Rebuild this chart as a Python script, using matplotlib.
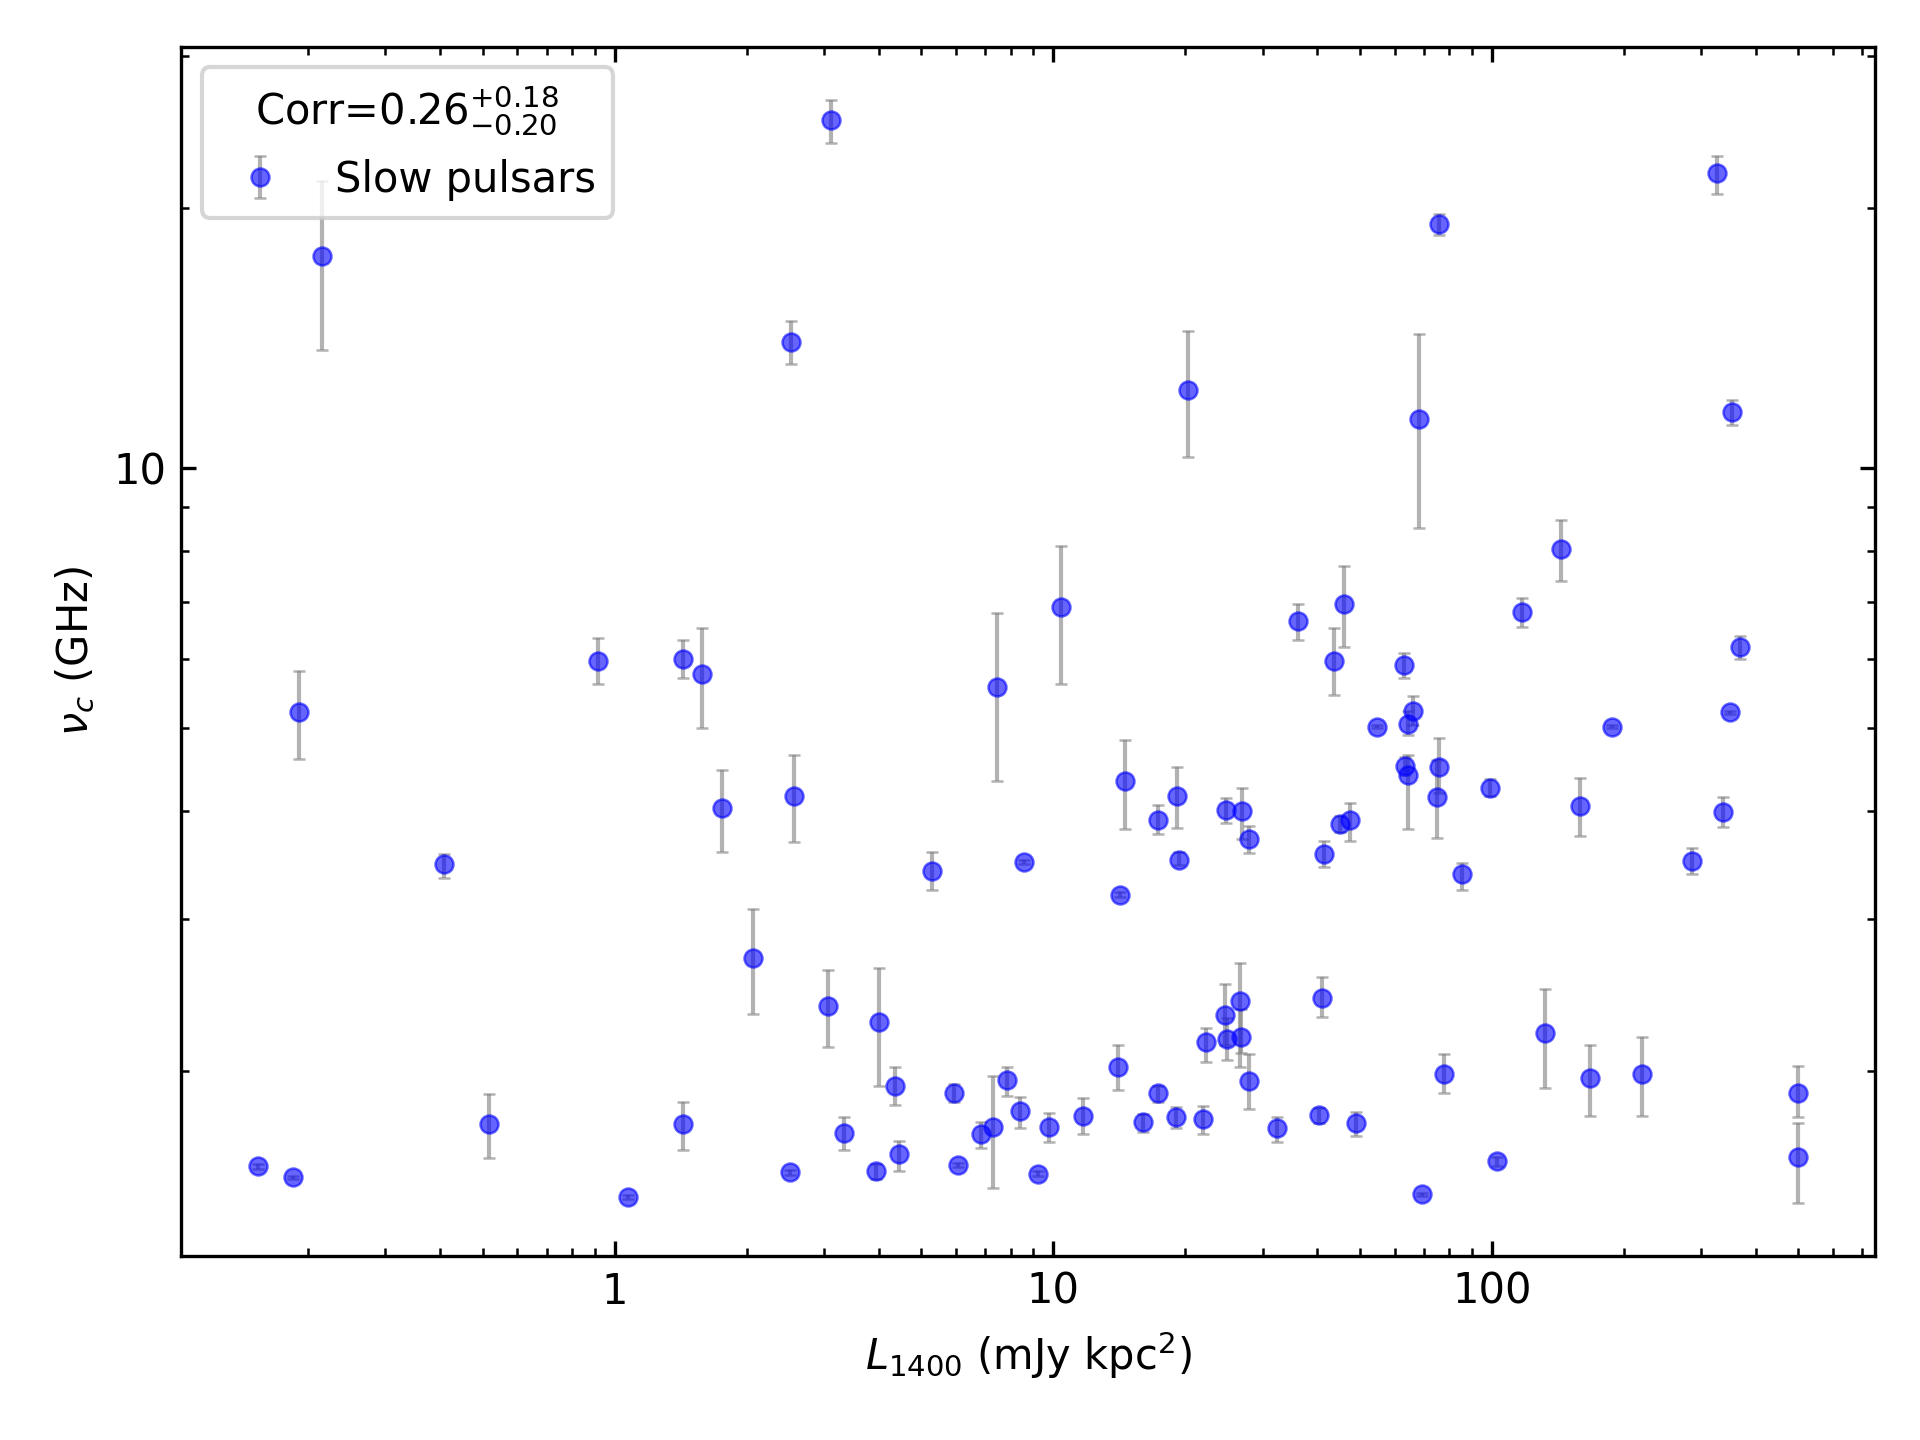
import numpy as np
from matplotlib import pyplot as plt
from matplotlib import ticker

# Luminosity at 1400 MHz (mJy kpc^2)
lum = [0.154, 0.185, 0.215, 0.191, 0.407, 0.516, 0.914, 1.073, 1.43, 1.43,
       1.58, 1.76, 2.07, 2.52, 2.57, 2.51, 3.12, 3.06, 3.33, 3.94,
       4.01, 4.36, 4.44, 5.29, 5.94, 6.05, 6.84, 7.44, 7.29, 7.83,
       8.40, 8.57, 9.25, 9.80, 10.4, 11.7, 14.05, 14.2, 14.6, 16.0,
       17.3, 17.3, 19.1, 19.3, 19.0, 20.3, 21.9, 22.3, 24.6, 24.9,
       26.6, 26.8, 26.9, 27.97, 28.0, 32.4, 36.2, 40.3, 40.9, 41.4,
       43.6, 45.0, 45.9, 47.4, 48.9, 54.6, 62.9, 63.4, 64.3, 64.5,
       66.2, 68.4, 69.2, 74.8, 75.6, 75.7, 77.7, 85.6, 99.2, 102.5,
       117.3, 132.5, 144.1, 158.7, 167.1, 187.5, 220.3, 286.7, 326.0, 336.6,
       350.0, 352.0, 368.0, 498.5, 498.5, 24.8]

# Cutoff frequency (GHz)
nu_c = [1.55, 1.505, 17.6, 5.21, 3.47, 1.733, 5.97, 1.428, 6.0, 1.733,
        5.77, 4.03, 2.70, 14.0, 4.16, 1.525, 25.3, 2.38, 1.693, 1.53,
        2.28, 1.923, 1.60, 3.41, 1.887, 1.555, 1.688, 5.57, 1.72, 1.949,
        1.796, 3.49, 1.52, 1.72, 6.89, 1.773, 2.02, 3.20, 4.33, 1.744,
        3.91, 1.887, 4.16, 3.51, 1.767, 12.3, 1.76, 2.16, 2.32, 2.18,
        2.41, 2.19, 4.00, 3.71, 1.947, 1.716, 6.64, 1.778, 2.43, 3.57,
        5.98, 3.87, 6.96, 3.91, 1.738, 5.01, 5.91, 4.51, 4.41, 5.05,
        5.23, 11.4, 1.438, 4.15, 4.50, 19.2, 1.981, 3.38, 4.26, 1.57,
        6.80, 2.21, 8.06, 4.06, 1.962, 5.01, 1.981, 3.50, 22.0, 3.99,
        5.21, 11.6, 6.20, 1.886, 1.588, 4.01]

# lower / upper bounds of nu_c
nu_lo = [1.54, 1.50, 13.7, 4.60, 3.35, 1.586, 5.61, 1.42, 5.71, 1.618,
         5.0, 3.59, 2.33, 13.2, 3.68, 1.515, 23.8, 2.13, 1.618, 1.50,
         1.92, 1.826, 1.53, 3.24, 1.84, 1.545, 1.627, 4.34, 1.461, 1.87,
         1.716, 3.47, 1.51, 1.655, 5.62, 1.688, 1.90, 3.18, 3.81, 1.70,
         3.76, 1.84, 3.82, 3.46, 1.715, 10.3, 1.69, 2.05, 2.14, 2.06,
         2.02, 2.10, 3.71, 3.58, 1.806, 1.655, 6.31, 1.74, 2.31, 3.45,
         5.46, 3.78, 6.20, 3.69, 1.68, 4.99, 5.70, 4.40, 3.81, 4.90,
         5.03, 8.51, 1.43, 3.72, 4.20, 18.6, 1.887, 3.24, 4.17, 1.55,
         6.54, 1.91, 7.40, 3.74, 1.773, 4.99, 1.773, 3.38, 20.8, 3.83,
         5.19, 11.2, 6.0, 1.77, 1.405, 3.88]

nu_hi = [1.56, 1.51, 21.5, 5.81, 3.57, 1.88, 6.35, 1.435, 6.31, 1.84,
         6.52, 4.46, 3.08, 14.8, 4.65, 1.535, 26.7, 2.62, 1.767, 1.56,
         2.63, 2.02, 1.66, 3.59, 1.93, 1.565, 1.744, 6.78, 1.975, 2.02,
         1.867, 3.51, 1.53, 1.786, 8.11, 1.862, 2.14, 3.22, 4.84, 1.78,
         4.07, 1.92, 4.50, 3.59, 1.815, 14.4, 1.82, 2.24, 2.52, 2.30,
         2.67, 2.36, 4.26, 3.84, 2.09, 1.77, 6.95, 1.81, 2.57, 3.69,
         6.52, 3.95, 7.70, 4.09, 1.79, 5.03, 6.10, 4.62, 4.65, 5.23,
         5.44, 14.3, 1.445, 4.59, 4.86, 19.7, 2.09, 3.48, 4.36, 1.59,
         7.07, 2.49, 8.71, 4.37, 2.14, 5.03, 2.19, 3.63, 23.0, 4.15,
         5.23, 12.0, 6.39, 2.025, 1.742, 4.14]

x = np.array(lum)
y = np.array(nu_c)
yerr = [y - np.array(nu_lo), np.array(nu_hi) - y]

fig = plt.figure(figsize=(6.4, 4.8), dpi=300)
ax = fig.add_subplot(111)
fig.subplots_adjust(left=0.0943, right=0.9766, bottom=0.1278, top=0.9677)

ax.errorbar(x, y, yerr=yerr, fmt='o', color='blue', ecolor='gray',
            alpha=0.6, ms=4.3, mew=0.6, capsize=1.5, elinewidth=1.0,
            capthick=1.0, label='Slow pulsars')

ax.set_xscale('log')
ax.set_yscale('log')
ax.set_xlim(0.1026, 748)
ax.set_ylim(1.22, 30.8)

ax.xaxis.set_major_formatter(ticker.FormatStrFormatter('%g'))
ax.yaxis.set_major_formatter(ticker.FormatStrFormatter('%g'))
ax.xaxis.set_minor_formatter(ticker.NullFormatter())
ax.yaxis.set_minor_formatter(ticker.NullFormatter())
ax.tick_params(which='both', direction='in', top=True, right=True)

ax.set_xlabel(r'$L_{1400}$ (mJy kpc$^2$)')
ax.set_ylabel(r'$\nu_c$ (GHz)')
ax.legend(title=r'Corr=$0.26^{+0.18}_{-0.20}$', loc='upper left',
          title_fontsize=10)

plt.savefig('out.png')
